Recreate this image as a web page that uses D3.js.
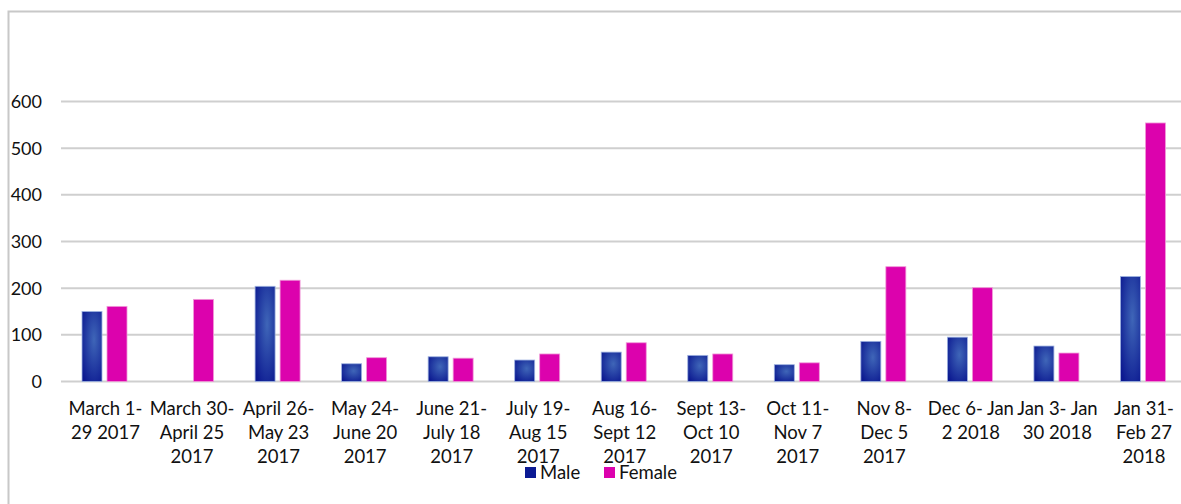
<!DOCTYPE html>
<html>
<head>
<meta charset="utf-8">
<script src="https://cdn.jsdelivr.net/npm/d3@7"></script>
<style>
  body { margin: 0; background: #fff; }
  svg text { font-family: Lato, "Open Sans", sans-serif; fill: #111; }
</style>
</head>
<body>
<svg id="chart"></svg>
<script>
// data
const periods = [
  ["March 1-", "29 2017"],
  ["March 30-", "April 25", "2017"],
  ["April 26-", "May 23", "2017"],
  ["May 24-", "June 20", "2017"],
  ["June 21-", "July 18", "2017"],
  ["July 19-", "Aug 15", "2017"],
  ["Aug 16-", "Sept 12", "2017"],
  ["Sept 13-", "Oct 10", "2017"],
  ["Oct 11-", "Nov 7", "2017"],
  ["Nov 8-", "Dec 5", "2017"],
  ["Dec 6- Jan", "2 2018"],
  ["Jan 3- Jan", "30 2018"],
  ["Jan 31-", "Feb 27", "2018"]
];
const male = [150, 0, 204, 38, 53, 46, 63, 56, 36, 86, 95, 76, 225];
const female = [161, 176, 217, 51, 50, 59, 83, 59, 40, 246, 201, 61, 554];
const series = ["Male", "Female"];
const yTicks = [0, 100, 200, 300, 400, 500, 600];

// constants
const width = 1181;
const height = 504;
const margin = { left: 61, right: -5, top: 101.5, bottom: 122.5 };

const svg = d3.select('#chart')
  .attr('width', width)
  .attr('height', height);

const defs = svg.append('defs');
const grad = defs.append('radialGradient')
  .attr('id', 'maleGrad')
  .attr('cx', '60%').attr('cy', '40%').attr('r', '75%');
grad.append('stop').attr('offset', '0%').attr('stop-color', '#3f66b8');
grad.append('stop').attr('offset', '100%').attr('stop-color', '#0b1890');

const colors = { Male: 'url(#maleGrad)', Female: '#dc02ad' };
const legendColors = { Male: '#0b1a94', Female: '#dc02ad' };

// outer frame
svg.append('path')
  .attr('d', 'M8.5,' + height + ' V11.5 H' + width)
  .attr('fill', 'none')
  .attr('stroke', '#c8c8c8')
  .attr('stroke-width', 2);

const x0 = d3.scaleBand()
  .domain(d3.range(periods.length))
  .range([margin.left, width - margin.right]);

const x1 = d3.scaleBand()
  .domain(series)
  .range([21, 66])
  .paddingInner(0.2);

const y = d3.scaleLinear()
  .domain([0, 600])
  .range([height - margin.bottom, margin.top]);

// gridlines
svg.append('g')
  .selectAll('line')
  .data(yTicks)
  .enter().append('line')
  .attr('x1', margin.left)
  .attr('x2', width)
  .attr('y1', d => y(d))
  .attr('y2', d => y(d))
  .attr('stroke', '#cfcfcf')
  .attr('stroke-width', 2);

// y labels
svg.append('g')
  .selectAll('text')
  .data(yTicks)
  .enter().append('text')
  .attr('x', 42)
  .attr('y', d => y(d) + 6.5)
  .attr('text-anchor', 'end')
  .style('font-size', '18px')
  .text(d => d);

// bars
const groups = svg.append('g')
  .selectAll('g')
  .data(periods.map((p, i) => ({ i: i, Male: male[i], Female: female[i] })))
  .enter().append('g')
  .attr('transform', d => 'translate(' + x0(d.i) + ',0)');

groups.selectAll('rect')
  .data(d => series.map(k => ({ key: k, value: d[k] })).filter(v => v.value > 0))
  .enter().append('rect')
  .attr('x', d => x1(d.key))
  .attr('width', x1.bandwidth())
  .attr('y', d => y(d.value))
  .attr('height', d => y(0) - y(d.value))
  .attr('fill', d => colors[d.key])
  .attr('stroke', d => d.key === 'Male' ? '#9fb3e0' : '#f09ad8')
  .attr('stroke-width', 0.8);

// x labels
const xl = svg.append('g')
  .selectAll('text')
  .data(periods)
  .enter().append('text')
  .attr('text-anchor', 'middle')
  .attr('transform', (d, i) => 'translate(' + (x0(i) + 44.5) + ',415)')
  .style('font-size', '18.5px');

xl.selectAll('tspan')
  .data(d => d)
  .enter().append('tspan')
  .attr('x', 0)
  .attr('dy', (d, i) => i === 0 ? 0 : 24)
  .text(d => d);

// legend
const legendX = { Male: 525, Female: 604 };
const leg = svg.append('g')
  .selectAll('g')
  .data(series)
  .enter().append('g')
  .attr('transform', d => 'translate(' + legendX[d] + ',467)');

leg.append('rect')
  .attr('width', 11)
  .attr('height', 11)
  .attr('fill', d => legendColors[d]);

leg.append('text')
  .attr('x', 15)
  .attr('y', 12)
  .style('font-size', '18.5px')
  .text(d => d);
</script>
</body>
</html>
